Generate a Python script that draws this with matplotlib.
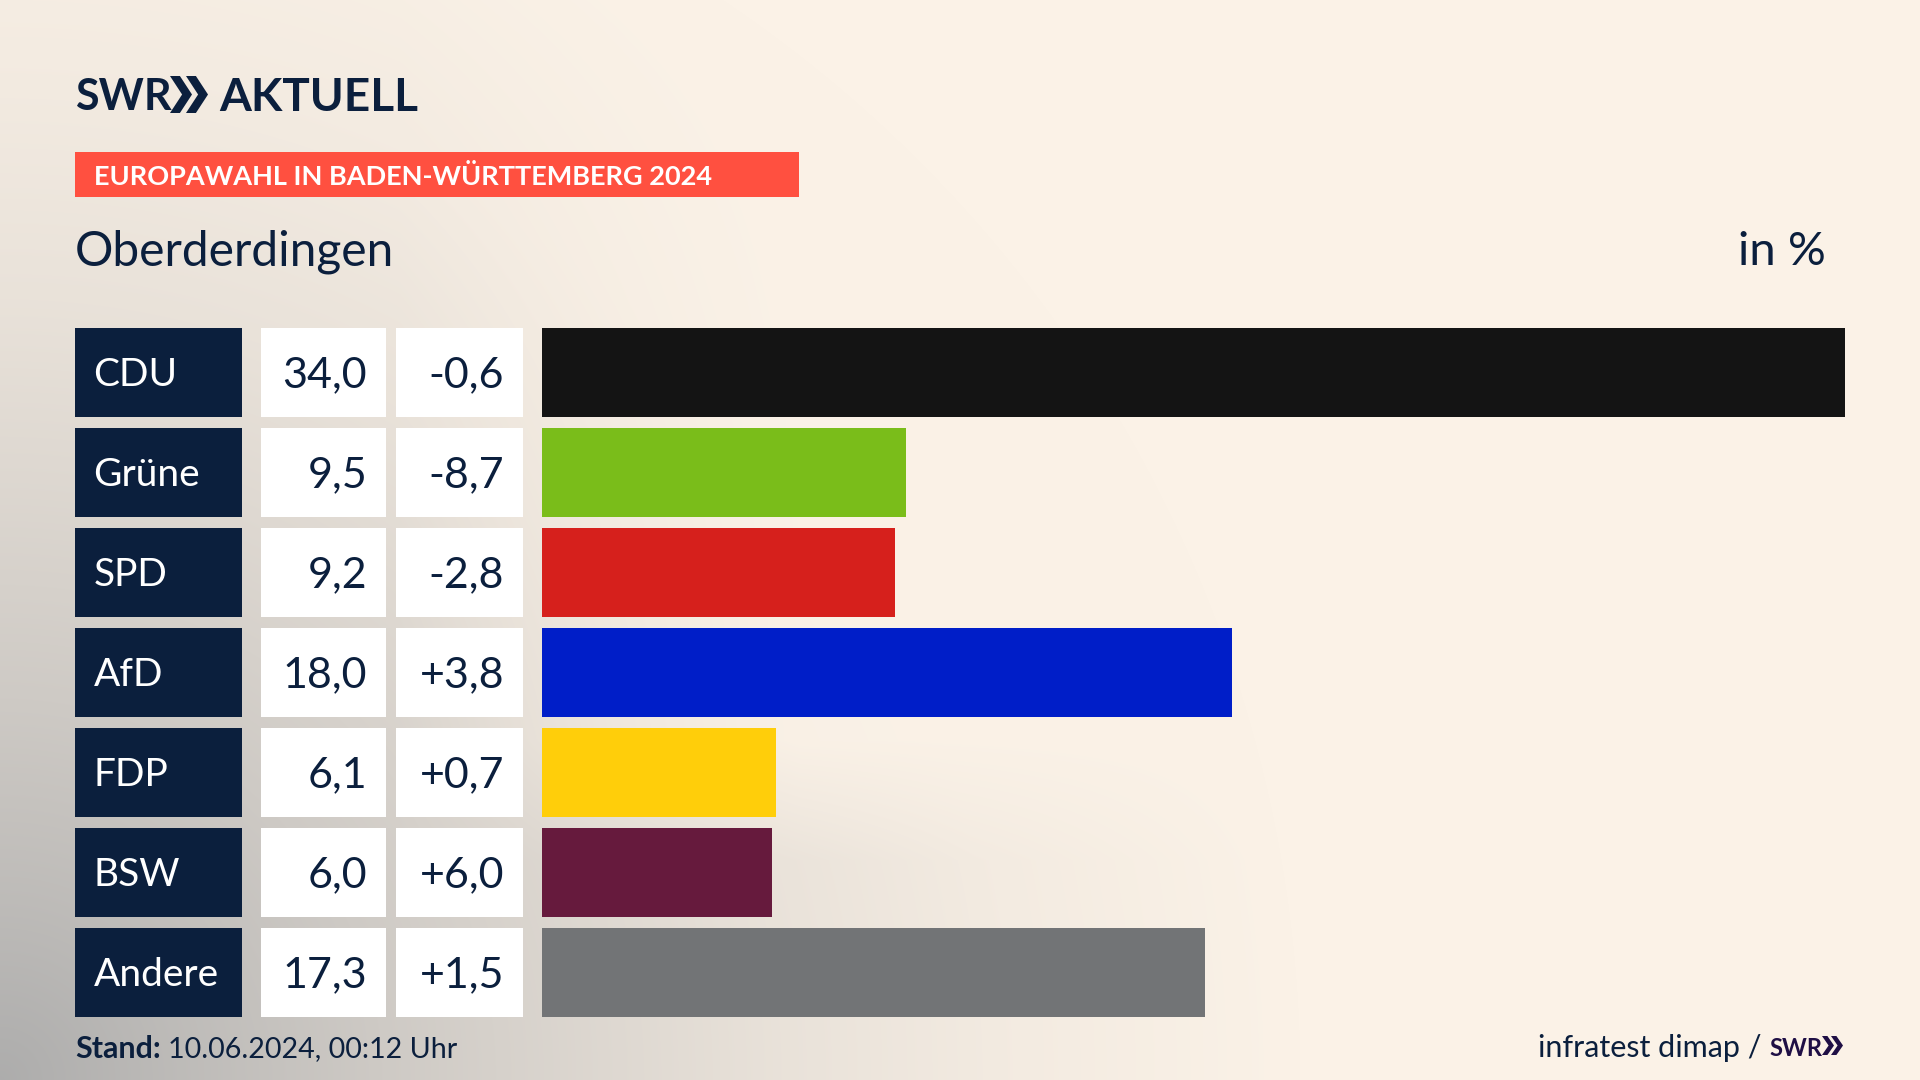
import numpy as np
import matplotlib
matplotlib.use("Agg")
import matplotlib.pyplot as plt
from matplotlib.patches import Rectangle, Polygon

parties = ["CDU", "Grüne", "SPD", "AfD", "FDP", "BSW", "Andere"]
shares = [34.0, 9.5, 9.2, 18.0, 6.1, 6.0, 17.3]
changes = ["-0,6", "-8,7", "-2,8", "+3,8", "+0,7", "+6,0", "+1,5"]
colors = ["#141414", "#7ABD1A", "#D6201C", "#001EC8", "#FFCE0A", "#661A3D", "#727476"]

W, H = 1920, 1080
NAVY = "#0B1F3D"
FONT = "Lato"
fig = plt.figure(figsize=(W / 100, H / 100), dpi=100)

# background gradient (px coordinates)
bg = fig.add_axes([0, 0, 1, 1], zorder=0)
yy, xx = np.mgrid[0:H, 0:W]
d = np.sqrt(xx.astype(float) ** 2 + (H - yy.astype(float)) ** 2)
t = np.interp(d, [0, 180, 380, 580, 780, 1000, 1300], [0.95, 0.75, 0.55, 0.38, 0.22, 0.10, 0.0])
fade = np.clip((xx - 400) / 400.0, 0, 1) * np.clip((860 - yy) / 120.0, 0, 1)
t = t * (1 - 0.9 * fade)
cream = np.array([0xFB, 0xF2, 0xE7]) / 255
grey = np.array([0xA9, 0xA9, 0xA9]) / 255
img = cream[None, None, :] * (1 - t[..., None]) + grey[None, None, :] * t[..., None]
bg.imshow(img, extent=(0, W, H, 0), aspect="auto", interpolation="bilinear")
bg.set_xlim(0, W)
bg.set_ylim(H, 0)
bg.axis("off")

# overlay in pixel coordinates
ov = fig.add_axes([0, 0, 1, 1], zorder=2)
ov.set_xlim(0, W)
ov.set_ylim(H, 0)
ov.axis("off")
ov.patch.set_alpha(0)


def txt(x, y, s, size, color=NAVY, weight="normal", ha="left", va="center_baseline", family=FONT):
    return ov.text(x, y, s, fontsize=size, color=color, fontweight=weight,
                   ha=ha, va=va, family=family)


def chevrons(x, y0, y1, w, gap, color):
    ym = (y0 + y1) / 2
    for k in range(2):
        x0 = x + k * gap
        ov.add_patch(Polygon([(x0, y0), (x0 + w * 0.45, y0), (x0 + w, ym), (x0 + w * 0.45, y1),
                              (x0, y1), (x0 + w * 0.55, ym)], closed=True, fc=color, ec="none"))


# logo
txt(75, 94, "SWR", 31, weight="bold")
chevrons(170, 76, 113, 22, 16, NAVY)
txt(219, 94, "AKTUELL", 33, weight="bold")

# banner
ov.add_patch(Rectangle((75, 152), 724, 45, fc="#FF5040", ec="none"))
txt(94, 174.5, "EUROPAWAHL IN BADEN-WÜRTTEMBERG 2024", 19.5, color="white", weight="bold")

txt(75, 248, "Oberderdingen", 34.5)
txt(1826, 248, "in %", 34, ha="right")

# bars
ROW_H = 88.5
ax = fig.add_axes([542 / W, 1 - 1016.5 / H, 1303 / W, 688.5 / H], zorder=1)
ax.patch.set_alpha(0)
ypos = np.arange(len(parties))
ax.barh(ypos, shares, height=ROW_H / 100, color=colors)
ax.set_xlim(0, max(shares))
ax.set_ylim(6 + ROW_H / 200, -ROW_H / 200)
ax.axis("off")

# table cells
for i, (p, s, c) in enumerate(zip(parties, shares, changes)):
    top = 328 + 100 * i
    cy = top + 44
    ov.add_patch(Rectangle((75, top), 167, ROW_H, fc=NAVY, ec="none"))
    ov.add_patch(Rectangle((261, top), 125, ROW_H, fc="white", ec="none"))
    ov.add_patch(Rectangle((396, top), 127, ROW_H, fc="white", ec="none"))
    txt(93.5, cy, p, 28, color="white")
    txt(367, cy, f"{s:.1f}".replace(".", ","), 31, ha="right")
    txt(504, cy, c, 31, ha="right")

# footer
txt(75, 1047, "Stand:", 22, weight="bold")
txt(168, 1047, "10.06.2024, 00:12 Uhr", 20.6)
txt(1761, 1046, "infratest dimap /", 22, ha="right")
txt(1769, 1046, "SWR", 17, color="#1F0F45", weight="bold")
chevrons(1822, 1036, 1055, 12, 9, "#1F0F45")

fig.savefig("out.png", dpi=100)
